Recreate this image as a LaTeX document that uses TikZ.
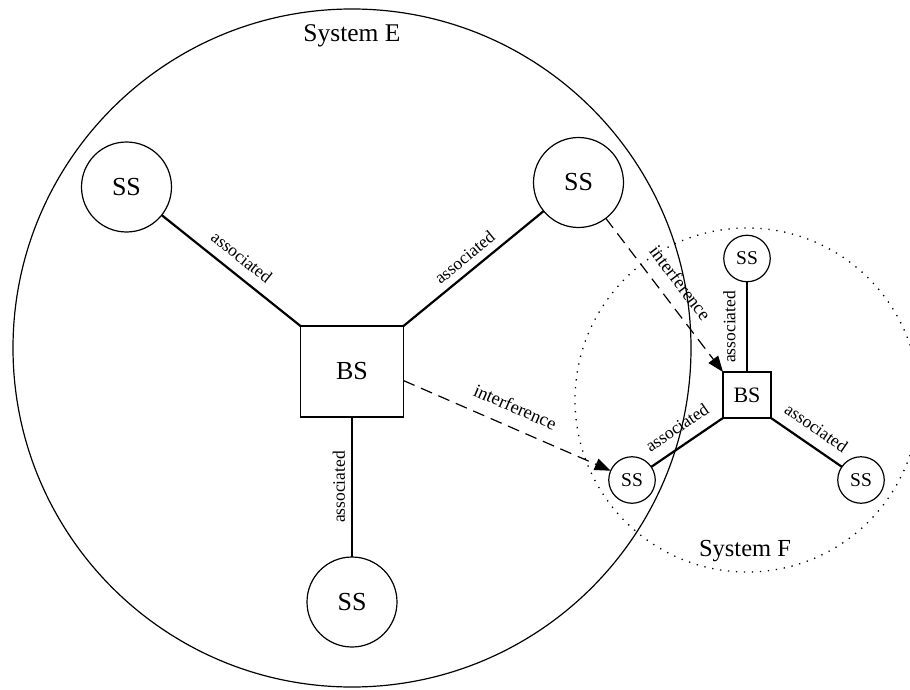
\documentclass[tikz,border=0pt]{standalone}
\usepackage{fontspec}
\setmainfont{Liberation Serif}
\usetikzlibrary{arrows.meta}
\begin{document}
\begin{tikzpicture}[x=1pt,y=-1pt,
  every node/.style={inner sep=0pt, outer sep=0pt},
  outline/.style={line width=1.2pt},
  ssbig/.style={circle, draw, outline, minimum size=90pt, font=\fontsize{26}{30}\selectfont},
  bsbig/.style={rectangle, draw, outline, minimum width=103pt, minimum height=91pt, font=\fontsize{26}{30}\selectfont},
  sssmall/.style={circle, draw, outline, minimum size=46.5pt, font=\fontsize{19.5}{23}\selectfont},
  bssmall/.style={rectangle, draw, outline, minimum width=48pt, minimum height=46pt, font=\fontsize{22}{26}\selectfont},
  assoc/.style={line width=2.2pt},
  interf/.style={line width=1.2pt, dash pattern=on 12pt off 7pt, -{Triangle[length=16pt,width=12pt]}},
  lab/.style={sloped, pos=0.5, font=\fontsize{17.5}{20}\selectfont},
  ilab/.style={sloped, pos=0.5, font=\fontsize{18.5}{21}\selectfont},
  syslab/.style={anchor=base}
]
\useasboundingbox (0,0) rectangle (910,690);
\clip (0,0) rectangle (910,690);
% system boundaries
\draw[outline] (352,348) circle[radius=339];
\draw[line width=1.3pt, dash pattern=on 1.3pt off 6.7pt] (747,400) circle[radius=172];
\node[syslab, font=\fontsize{25.5}{30}\selectfont] (sysE) at (352,41.7) {System E};
\node[syslab, font=\fontsize{24.5}{29}\selectfont] (sysF) at (745,556) {System F};
% system E nodes
\node[ssbig] (ssA) at (126.5,187) {SS};
\node[ssbig] (ssB) at (578.5,182.5) {SS};
\node[ssbig] (ssC) at (352,602) {SS};
\node[bsbig] (bsE) at (352,371.5) {BS};
% system F nodes
\node[sssmall] (ssF1) at (747,258.5) {SS};
\node[bssmall] (bsF) at (747,395) {BS};
\node[sssmall] (ssF2) at (632,480) {SS};
\node[sssmall] (ssF3) at (861,480) {SS};
% associations in E
\draw[assoc] (ssA) -- (bsE.north west) node[lab, above=11pt] {associated};
\draw[assoc] (bsE.north east) -- (ssB) node[lab, above=8pt] {associated};
\draw[assoc] (ssC) -- (bsE.south) node[lab, above=7pt] {associated};
% associations in F
\draw[assoc] (bsF.north) -- (ssF1) node[lab, above=11.5pt] {associated};
\draw[assoc] (ssF2) -- (bsF.south west) node[lab, above=12pt] {associated};
\draw[assoc] (bsF.south east) -- (ssF3) node[lab, above=11.5pt] {associated};
% interference
\draw[interf] (bsE.-10) -- (ssF2) node[ilab, above=14pt] {interference};
\draw[interf] (ssB) -- (bsF.north west) node[ilab, above=13.5pt] {interference};
\end{tikzpicture}
\end{document}
